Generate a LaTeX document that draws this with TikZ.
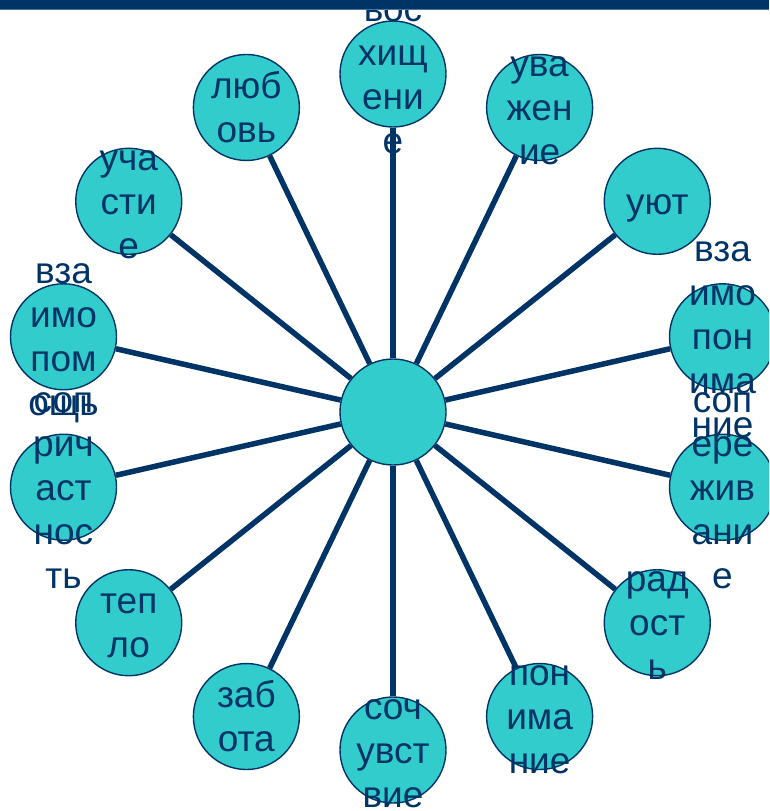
\documentclass[tikz,border=0pt]{standalone}
\usepackage{fontspec}
\setmainfont{Liberation Sans}
\usepackage{xcolor}
\usetikzlibrary{calc}
\definecolor{navy}{HTML}{003366}
\definecolor{turq}{HTML}{33CCCC}
\definecolor{barline}{HTML}{4A76A4}
% line box like the slide's text frame
\newcommand{\ls}{\rule[-8pt]{0pt}{42pt}}

\begin{document}
\begin{tikzpicture}[x=1pt, y=1pt,
	circ/.style={circle, fill=turq, draw=navy, line width=1.4pt, minimum size=106pt, inner sep=0pt},
	word/.style={align=center, text=navy, font=\fontsize{37}{44}\selectfont, inner sep=0pt},
	spoke/.style={draw=navy, line width=5.5pt}]

	\useasboundingbox (0,0) rectangle (769,-811);
	\clip (0,0) rectangle (769,-811);

	\coordinate (X) at (393,-412);

	\node[circ] (O) at (X) {};
	\node[circ] (A) at ($(X)+(90:338)$) {};
	\node[circ] (B) at ($(X)+(64.29:338)$) {};
	\node[circ] (C) at ($(X)+(38.57:338)$) {};
	\node[circ] (D) at ($(X)+(12.86:338)$) {};
	\node[circ] (E) at ($(X)+(-12.86:338)$) {};
	\node[circ] (F) at ($(X)+(-38.57:338)$) {};
	\node[circ] (G) at ($(X)+(-64.29:338)$) {};
	\node[circ] (H) at ($(X)+(-90:338)$) {};
	\node[circ] (I) at ($(X)+(-115.71:338)$) {};
	\node[circ] (J) at ($(X)+(-141.43:338)$) {};
	\node[circ] (K) at ($(X)+(-167.14:338)$) {};
	\node[circ] (L) at ($(X)+(167.14:338)$) {};
	\node[circ] (M) at ($(X)+(141.43:338)$) {};
	\node[circ] (N) at ($(X)+(115.71:338)$) {};

	\draw[spoke] (O) -- (A);
	\draw[spoke] (O) -- (B);
	\draw[spoke] (O) -- (C);
	\draw[spoke] (O) -- (D);
	\draw[spoke] (O) -- (E);
	\draw[spoke] (O) -- (F);
	\draw[spoke] (O) -- (G);
	\draw[spoke] (O) -- (H);
	\draw[spoke] (O) -- (I);
	\draw[spoke] (O) -- (J);
	\draw[spoke] (O) -- (K);
	\draw[spoke] (O) -- (L);
	\draw[spoke] (O) -- (M);
	\draw[spoke] (O) -- (N);

	\node[word] (tA) at (A) {\ls вос\\хищ\\ени\\е\ls};
	\node[word] (tB) at (B) {\ls ува\\жен\\ие\ls};
	\node[word] (tC) at (C) {\ls уют\ls};
	\node[word] (tD) at (D) {\ls вза\\имо\\пон\\има\\ние\ls};
	\node[word] (tE) at (E) {\ls соп\\ере\\жив\\ани\\е\ls};
	\node[word] (tF) at (F) {\ls рад\\ост\\ь\ls};
	\node[word] (tG) at (G) {\ls пон\\има\\ние\ls};
	\node[word] (tH) at (H) {\ls соч\\увст\\вие\ls};
	\node[word] (tI) at (I) {\ls заб\\ота\ls};
	\node[word] (tJ) at (J) {\ls теп\\ло\ls};
	\node[word] (tK) at (K) {\ls соп\\рич\\аст\\нос\\ть\ls};
	\node[word] (tL) at (L) {\ls вза\\имо\\пом\\ощь\ls};
	\node[word] (tM) at (M) {\ls уча\\сти\\е\ls};
	\node[word] (tN) at (N) {\ls люб\\овь\ls};

	% top band
	\fill[navy] (0,0) rectangle (769,-9.3);
	\draw[barline, line width=1pt] (0,-9.8) -- (769,-9.8);

\end{tikzpicture}
\end{document}
